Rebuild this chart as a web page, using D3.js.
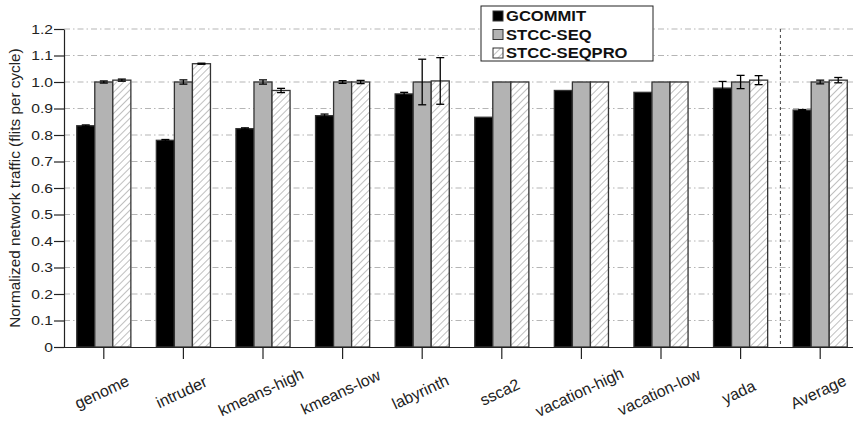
<!DOCTYPE html>
<html>
<head>
<meta charset="utf-8">
<script src="https://cdn.jsdelivr.net/npm/d3@7"></script>
<style>
body { margin:0; background:#fff; }
text { font-family: "Liberation Sans", Arial, sans-serif; }
</style>
</head>
<body>
<svg id="chart"></svg>
<script>
var categories = ["genome","intruder","kmeans-high","kmeans-low","labyrinth","ssca2","vacation-high","vacation-low","yada","Average"];
var seriesNames = ["GCOMMIT","STCC-SEQ","STCC-SEQPRO"];

var gcommit    = [0.835, 0.78, 0.824, 0.873, 0.955, 0.867, 0.968, 0.961, 0.977, 0.894];
var stccSeq    = [1.0, 1.0, 1.0, 1.0, 1.0, 1.0, 1.0, 1.0, 1.0, 1.0];
var stccSeqPro = [1.007, 1.069, 0.968, 1.0, 1.004, 1.0, 1.0, 1.0, 1.007, 1.007];

// error half-widths (0 = no visible bar)
var gcommitErr    = [0.003, 0.003, 0.003, 0.006, 0.006, 0, 0, 0, 0.025, 0.002];
var stccSeqErr    = [0.004, 0.008, 0.008, 0.005, 0.086, 0, 0, 0, 0.025, 0.007];
var stccSeqProErr = [0.004, 0.002, 0.008, 0.006, 0.088, 0, 0, 0, 0.017, 0.01];

var yTicks = [0,0.1,0.2,0.3,0.4,0.5,0.6,0.7,0.8,0.9,1.0,1.1,1.2];

var screen = {width:853, height:428};
var margins = {top:29, left:64, bottom:81};
var stretch = 1.16; // the original's text is a bit wide

var values = [gcommit, stccSeq, stccSeqPro];
var errs = [gcommitErr, stccSeqErr, stccSeqProErr];

var svg = d3.select("#chart")
  .attr("width", screen.width)
  .attr("height", screen.height);

var defs = svg.append("defs");
var pat = defs.append("pattern")
  .attr("id","hatch")
  .attr("patternUnits","userSpaceOnUse")
  .attr("width",5).attr("height",5)
  .attr("patternTransform","rotate(45)");
pat.append("rect").attr("width",5).attr("height",5).attr("fill","#fff");
pat.append("line").attr("x1",0).attr("y1",0).attr("x2",0).attr("y2",5)
  .attr("stroke","#8a8a8a").attr("stroke-width",1.1);

var fills = ["#000","#b3b3b3","url(#hatch)"];

var xScale = d3.scaleBand()
  .domain(categories)
  .range([margins.left, margins.left + 796])
  .paddingInner(0.32)
  .paddingOuter(0.16);

var xSub = d3.scaleBand()
  .domain(seriesNames)
  .range([0, xScale.bandwidth()]);

var yScale = d3.scaleLinear()
  .domain([0,1.2])
  .range([screen.height - margins.bottom, margins.top]);

// grid
svg.append("g")
  .selectAll("line")
  .data(yTicks.slice(1))
  .enter()
  .append("line")
  .attr("x1", margins.left)
  .attr("x2", screen.width)
  .attr("y1", function(d){ return yScale(d); })
  .attr("y2", function(d){ return yScale(d); })
  .attr("stroke","#b5b5b5")
  .attr("stroke-width",1)
  .attr("stroke-dasharray","6,3,1.5,3");

// separator before Average
var sepX = (xScale("yada") + xScale.bandwidth()/2 + xScale("Average") + xScale.bandwidth()/2) / 2;
svg.append("line")
  .attr("x1", sepX).attr("x2", sepX)
  .attr("y1", yScale(1.2)).attr("y2", yScale(0))
  .attr("stroke","#444")
  .attr("stroke-width",1)
  .attr("stroke-dasharray","3,3");

// bars
var groups = svg.append("g")
  .selectAll("g")
  .data(seriesNames)
  .enter()
  .append("g");

groups.each(function(s, si){
  d3.select(this).selectAll("rect")
    .data(categories)
    .enter()
    .append("rect")
    .attr("x", function(c){ return xScale(c) + xSub(s); })
    .attr("width", xSub.bandwidth())
    .attr("y", function(c,i){ return yScale(values[si][i]); })
    .attr("height", function(c,i){ return yScale(0) - yScale(values[si][i]); })
    .attr("fill", fills[si])
    .attr("stroke", "#333")
    .attr("stroke-width", 1.3);
});

// error bars
groups.each(function(s, si){
  var g = d3.select(this);
  categories.forEach(function(c, i){
    var e = errs[si][i];
    if (!e) return;
    var cx = xScale(c) + xSub(s) + xSub.bandwidth()/2;
    var v = values[si][i];
    g.append("line").attr("x1",cx).attr("x2",cx)
      .attr("y1",yScale(v+e)).attr("y2",yScale(v-e))
      .attr("stroke","#000").attr("stroke-width",1.3);
    [v+e, v-e].forEach(function(t){
      g.append("line").attr("x1",cx-4).attr("x2",cx+4)
        .attr("y1",yScale(t)).attr("y2",yScale(t))
        .attr("stroke","#000").attr("stroke-width",1.3);
    });
  });
});

// axes
var yAxis = d3.axisLeft(yScale)
  .tickValues(yTicks)
  .tickSize(10)
  .tickSizeOuter(0)
  .tickPadding(1)
  .tickFormat(function(d){ return d === 0 ? "0" : d3.format(".1f")(d); });

var yg = svg.append("g")
  .attr("transform","translate("+margins.left+",0)")
  .call(yAxis);
yg.selectAll("text")
  .attr("font-size","13.5px")
  .attr("fill","#222")
  .style("font-family","'Liberation Sans', Arial, sans-serif")
  .attr("x", -11/stretch)
  .attr("transform","scale("+stretch+",1)");
yg.selectAll("line, path").attr("stroke","#222").attr("stroke-width",1.2);

var xAxis = d3.axisBottom(xScale)
  .tickSize(12)
  .tickSizeOuter(0);

var xg = svg.append("g")
  .attr("transform","translate(0,"+yScale(0)+")")
  .call(xAxis);
xg.select(".domain").attr("d","M"+margins.left+",0.5H"+screen.width);
xg.selectAll("line, path").attr("stroke","#222").attr("stroke-width",1.2);
xg.selectAll("text")
  .attr("font-size","16px")
  .attr("fill","#222")
  .style("font-family","'Liberation Sans', Arial, sans-serif")
  .attr("y",0)
  .attr("dy","0.35em")
  .attr("text-anchor","middle")
  .attr("transform","translate(-2,45) rotate(-25)");

// y label
svg.append("text")
  .attr("transform","translate(20,"+(yScale(0.6))+") rotate(-90)")
  .attr("text-anchor","middle")
  .attr("font-size","15.3px")
  .attr("fill","#222")
  .text("Normalized network traffic (flits per cycle)");

// legend
var legend = svg.append("g").attr("class","legend");
legend.append("rect")
  .attr("x",481).attr("y",6).attr("width",172).attr("height",55)
  .attr("fill","#fff").attr("stroke","#222").attr("stroke-width",1);
var items = legend.selectAll("g.item")
  .data(seriesNames)
  .enter()
  .append("g")
  .attr("class","item")
  .attr("transform",function(d,i){ return "translate(493,"+(11+i*18.5)+")"; });
items.append("rect")
  .attr("width",10).attr("height",10)
  .attr("fill",function(d,i){ return fills[i]; })
  .attr("stroke","#333").attr("stroke-width",1);
items.append("text")
  .attr("x",13/stretch).attr("y",5).attr("dy","0.36em")
  .attr("transform","scale("+stretch+",1)")
  .attr("font-size","14.3px")
  .attr("font-weight","bold")
  .attr("fill","#111")
  .text(function(d){ return d; });
</script>
</body>
</html>
